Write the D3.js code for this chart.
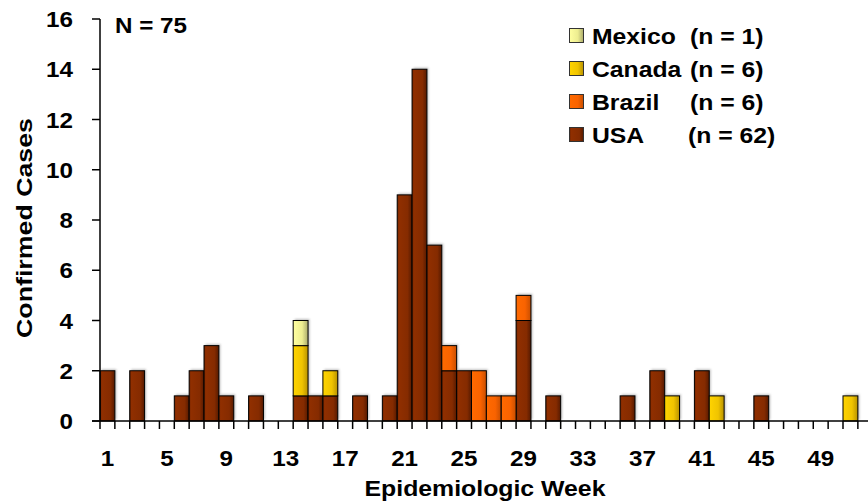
<!DOCTYPE html>
<html>
<head>
<meta charset="utf-8">
<script src="https://cdn.jsdelivr.net/npm/d3@7"></script>
<style>
  body { margin: 0; background: #fff; }
  svg text { font-family: "Liberation Sans", Arial, sans-serif; font-weight: bold; fill: #000; }
</style>
</head>
<body>
<svg id="chart" width="868" height="503"></svg>
<script>
// epidemiologic weeks 1..52
const weeks = [1,2,3,4,5,6,7,8,9,10,11,12,13,14,15,16,17,18,19,20,21,22,23,24,25,26,
               27,28,29,30,31,32,33,34,35,36,37,38,39,40,41,42,43,44,45,46,47,48,49,50,51,52]
const usa    = [2,0,2,0,0,1,2,3,1,0,1,0,0,1,1,1,0,1,0,1,9,14,7,2,2,0,
                0,0,4,0,1,0,0,0,0,1,0,2,0,0,2,0,0,0,1,0,0,0,0,0,0,0]
const brazil = [0,0,0,0,0,0,0,0,0,0,0,0,0,0,0,0,0,0,0,0,0,0,0,1,0,2,
                1,1,1,0,0,0,0,0,0,0,0,0,0,0,0,0,0,0,0,0,0,0,0,0,0,0]
const canada = [0,0,0,0,0,0,0,0,0,0,0,0,0,2,0,1,0,0,0,0,0,0,0,0,0,0,
                0,0,0,0,0,0,0,0,0,0,0,0,1,0,0,1,0,0,0,0,0,0,0,0,1,0]
const mexico = [0,0,0,0,0,0,0,0,0,0,0,0,0,1,0,0,0,0,0,0,0,0,0,0,0,0,
                0,0,0,0,0,0,0,0,0,0,0,0,0,0,0,0,0,0,0,0,0,0,0,0,0,0]
const xTickLabels = [1,5,9,13,17,21,25,29,33,37,41,45,49]
const yTicks = [0,2,4,6,8,10,12,14,16]
const legendNames = ['Mexico', 'Canada', 'Brazil', 'USA']
const legendCounts = ['(n = 1)', '(n = 6)', '(n = 6)', '(n = 62)']

const keys = ['usa', 'brazil', 'canada', 'mexico']
const table = weeks.map((w, i) => ({ week: w, usa: usa[i], brazil: brazil[i], canada: canada[i], mexico: mexico[i] }))

const svg = d3.select('#chart')
const plotLeft = 100, plotBottom = 421, plotTop = 19
const bw = 14.86
const stretch = 1.1 // glyphs in the original are a bit wide

const x = d3.scaleBand().domain(weeks).range([plotLeft, plotLeft + bw * weeks.length]).padding(0)
const y = d3.scaleLinear().domain([0, 16]).range([plotBottom, plotTop])

function label(g, tx, ty, str, size, anchor, rot) {
    return g.append('text')
        .attr('transform', `translate(${tx},${ty})` + (rot ? ` rotate(${rot})` : '') + ` scale(${stretch},1)`)
        .attr('text-anchor', anchor || 'start')
        .style('font-size', size + 'px')
        .text(str)
}

// gradients, lighter at the left edge of each bar
const grads = {
    usa:    [['0', '#6c2200'], ['0.12', '#902f00'], ['0.7', '#852b00'], ['1', '#561a00']],
    brazil: [['0', '#ff6a00'], ['0.6', '#f96300'], ['1', '#c84e00']],
    canada: [['0', '#ffd400'], ['0.6', '#f0c400'], ['1', '#b89200']],
    mexico: [['0', '#ffffa0'], ['0.6', '#eded90'], ['1', '#a9a96c']]
}
const defs = svg.append('defs')
for (const k of keys) {
    const g = defs.append('linearGradient').attr('id', 'g-' + k)
        .attr('x1', '0').attr('x2', '1').attr('y1', '0').attr('y2', '0')
    grads[k].forEach(s => g.append('stop').attr('offset', s[0]).attr('stop-color', s[1]))
}
const blur = defs.append('filter').attr('id', 'shadow').attr('x', '-20%').attr('y', '-20%').attr('width', '140%').attr('height', '140%')
blur.append('feGaussianBlur').attr('stdDeviation', 0.8)

const stacked = d3.stack().keys(keys)(table)

// soft grey shadow behind the bars
const total = d => d.usa + d.brazil + d.canada + d.mexico
svg.append('g').selectAll('rect')
    .data(table.filter(d => total(d) > 0))
    .enter().append('rect')
    .attr('x', d => x(d.week) + 1.5)
    .attr('y', d => y(total(d)) - 1.5)
    .attr('width', x.bandwidth())
    .attr('height', d => plotBottom - y(total(d)))
    .attr('fill', '#888')
    .attr('opacity', 0.55)
    .attr('filter', 'url(#shadow)')

svg.append('g').selectAll('g')
    .data(stacked)
    .enter().append('g')
    .attr('fill', d => 'url(#g-' + d.key + ')')
    .selectAll('rect')
    .data(d => d.filter(s => s[1] > s[0]))
    .enter().append('rect')
    .attr('x', d => x(d.data.week))
    .attr('y', d => y(d[1]))
    .attr('width', x.bandwidth())
    .attr('height', d => y(d[0]) - y(d[1]))
    .attr('stroke', '#000')
    .attr('stroke-width', 1)

// y axis
const yAxis = svg.append('g')
yAxis.append('line').attr('x1', plotLeft).attr('x2', plotLeft).attr('y1', plotTop).attr('y2', plotBottom)
    .attr('stroke', '#000').attr('stroke-width', 1.5)
yAxis.selectAll('line.tick').data(yTicks).enter().append('line')
    .attr('class', 'tick')
    .attr('x1', plotLeft - 8).attr('x2', plotLeft)
    .attr('y1', d => y(d)).attr('y2', d => y(d))
    .attr('stroke', '#000').attr('stroke-width', 1.5)
yTicks.forEach(t => label(yAxis, 73, y(t) + 8, t, 22, 'end'))

// x axis
const xAxis = svg.append('g')
xAxis.append('line').attr('x1', plotLeft - 8).attr('x2', 868).attr('y1', plotBottom).attr('y2', plotBottom)
    .attr('stroke', '#000').attr('stroke-width', 1.5)
xAxis.selectAll('line.tick').data(weeks).enter().append('line')
    .attr('class', 'tick')
    .attr('x1', d => x(d)).attr('x2', d => x(d))
    .attr('y1', plotBottom).attr('y2', plotBottom + 8)
    .attr('stroke', '#000').attr('stroke-width', 1.5)
xTickLabels.forEach(t => label(xAxis, x(t) + x.bandwidth() / 2, 465.5, t, 22, 'middle'))

// axis titles
svg.append('text')
    .attr('x', 485).attr('y', 496)
    .attr('text-anchor', 'middle')
    .attr('textLength', 241).attr('lengthAdjust', 'spacingAndGlyphs')
    .style('font-size', '21.5px')
    .text('Epidemiologic Week')
svg.append('text')
    .attr('transform', 'translate(32,228) rotate(-90)')
    .attr('text-anchor', 'middle')
    .attr('textLength', 220).attr('lengthAdjust', 'spacingAndGlyphs')
    .style('font-size', '22.5px')
    .text('Confirmed Cases')

label(svg, 115, 33, 'N = 75', 22)

// legend, top row is Mexico
const legendKeys = ['mexico', 'canada', 'brazil', 'usa']
const lg = svg.append('g')
legendKeys.forEach((k, i) => {
    const yy = 28 + i * 33
    lg.append('rect').attr('x', 569.5).attr('y', yy + 0.5).attr('width', 14).attr('height', 14)
        .attr('fill', 'url(#g-' + k + ')').attr('stroke', '#333').attr('stroke-width', 1)
    label(lg, 592, yy + 15.5, legendNames[i], 22.5)
    label(lg, i === 3 ? 688 : 690, yy + 15.5, legendCounts[i], 22.5)
})
</script>
</body>
</html>
